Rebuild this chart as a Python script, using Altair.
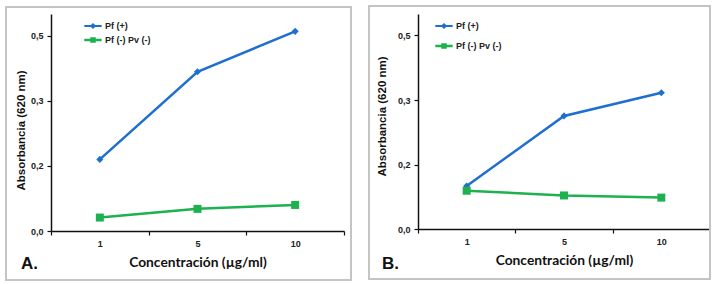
import altair as alt
import pandas as pd

# ---------------- data ----------------
concentrations = ["1", "5", "10"]
series_names = ["Pf (+)", "Pf (-) Pv (-)"]
panel_a_pos = [0.165, 0.367, 0.460]
panel_a_neg = [0.031, 0.051, 0.060]
panel_b_pos = [0.100, 0.263, 0.317]
panel_b_neg = [0.089, 0.078, 0.073]
y_tick_values = [0.0, 0.15, 0.30, 0.45]
y_tick_labels = ["0,0", "0,2", "0,3", "0,5"]
series_colors = ["#1e6fcf", "#1db14f"]
panel_letters = ["A.", "B."]
x_title = "Concentración (µg/ml)"
y_title = "Absorbancia (620 nm)"


def make_df(pos, neg):
    rows = []
    for c, v in zip(concentrations, pos):
        rows.append({"conc": c, "series": series_names[0], "value": v})
    for c, v in zip(concentrations, neg):
        rows.append({"conc": c, "series": series_names[1], "value": v})
    return pd.DataFrame(rows)


step = y_tick_values[1]
label_expr = "[" + ",".join(f"'{s}'" for s in y_tick_labels) + f"][round(datum.value / {step})]"

legend_diamond = "M-1,-0.12H1V0.12H-1Z M0,-0.36L0.36,0L0,0.36L-0.36,0Z"
legend_square = "M-1,-0.13H1V0.13H-1Z M-0.32,-0.32H0.32V0.32H-0.32Z"

one_row = pd.DataFrame({"k": [0]})


def panel(pos, neg, letter, w, h, frame, letter_xy, y_title_pad, y_title_y,
          leg_x, leg_y, leg_row_pad):
    df = make_df(pos, neg)
    xenc = alt.X(
        "conc:O", sort=concentrations,
        scale=alt.Scale(type="band", domain=concentrations, paddingInner=0, paddingOuter=0),
        axis=alt.Axis(title=x_title, labelAngle=0, tickBand="extent", tickSize=4,
                      labelPadding=4, titlePadding=7, titleFont="Lato",
                      titleFontSize=13.8, titleFontWeight="bold", titleColor="#111"),
    )
    yenc = alt.Y(
        "value:Q",
        scale=alt.Scale(domain=[0, 0.5], nice=False, zero=True),
        axis=alt.Axis(title=y_title, values=y_tick_values, labelExpr=label_expr,
                      tickSize=4, labelPadding=4, titlePadding=y_title_pad,
                      titleY=y_title_y, titleFont="Liberation Sans", titleFontSize=11.5,
                      titleFontWeight="bold", titleColor="#111"),
    )
    cscale = alt.Scale(domain=series_names, range=series_colors)

    frame_layer = alt.Chart(one_row).mark_rect(
        fillOpacity=0, stroke="#c4c4c4", strokeWidth=2
    ).encode(x=alt.value(frame[0]), x2=alt.value(frame[1]),
             y=alt.value(frame[2]), y2=alt.value(frame[3]))

    lines = alt.Chart(df).mark_line(strokeWidth=2.5).encode(
        x=xenc, y=yenc, color=alt.Color("series:N", scale=cscale, legend=None))

    pts_pos = alt.Chart(df).transform_filter(
        alt.datum.series == series_names[0]
    ).mark_point(shape="diamond", size=50, filled=True, opacity=1,
                 color=series_colors[0]).encode(x=xenc, y=yenc)
    pts_neg = alt.Chart(df).transform_filter(
        alt.datum.series == series_names[1]
    ).mark_point(shape="square", size=64, filled=True, opacity=1,
                 color=series_colors[1]).encode(x=xenc, y=yenc)

    leg = alt.Legend(title=None, orient="none", legendX=leg_x, legendY=leg_y,
                     labelFont="Liberation Sans", labelFontWeight="bold",
                     labelFontSize=9, labelColor="#222", symbolSize=300,
                     symbolStrokeWidth=0, labelOffset=3, rowPadding=leg_row_pad,
                     padding=0)
    legend_layer = alt.Chart(df).transform_filter("false").mark_point(
        filled=True, opacity=1
    ).encode(
        x=xenc, y=yenc,
        color=alt.Color("series:N", scale=cscale, legend=leg),
        shape=alt.Shape("series:N",
                        scale=alt.Scale(domain=series_names,
                                        range=[legend_diamond, legend_square]),
                        legend=leg),
    )

    letter_layer = alt.Chart(one_row).mark_text(
        text=letter, align="left", baseline="middle", fontSize=17,
        fontWeight="bold", font="Liberation Sans", color="#111"
    ).encode(x=alt.value(letter_xy[0]), y=alt.value(letter_xy[1]))

    return alt.layer(frame_layer, lines, pts_pos, pts_neg, legend_layer,
                     letter_layer).resolve_scale(
        color="independent", shape="independent"
    ).properties(width=w, height=h)


pa = panel(panel_a_pos, panel_a_neg, panel_letters[0], 293, 217,
           (-45, 300, -7, 266), (-30, 250), 4, 116, 33, 3, 0)
pb = panel(panel_b_pos, panel_b_neg, panel_letters[1], 292, 215,
           (-49, 292, -8, 265), (-36, 250), 10, 102, 17, 3, 6)

chart = alt.hconcat(pa, pb, spacing=16).properties(
    padding={"left": 5, "top": 5, "right": 0, "bottom": 0}
).configure_view(stroke=None).configure_axis(
    grid=False, domainColor="#111", domainWidth=1.5, tickColor="#111",
    tickWidth=1.2, labelFont="Liberation Sans", labelFontWeight="bold",
    labelFontSize=9, labelColor="#222"
)

chart.save("out.html", embed_options={"renderer": "svg", "actions": False})
